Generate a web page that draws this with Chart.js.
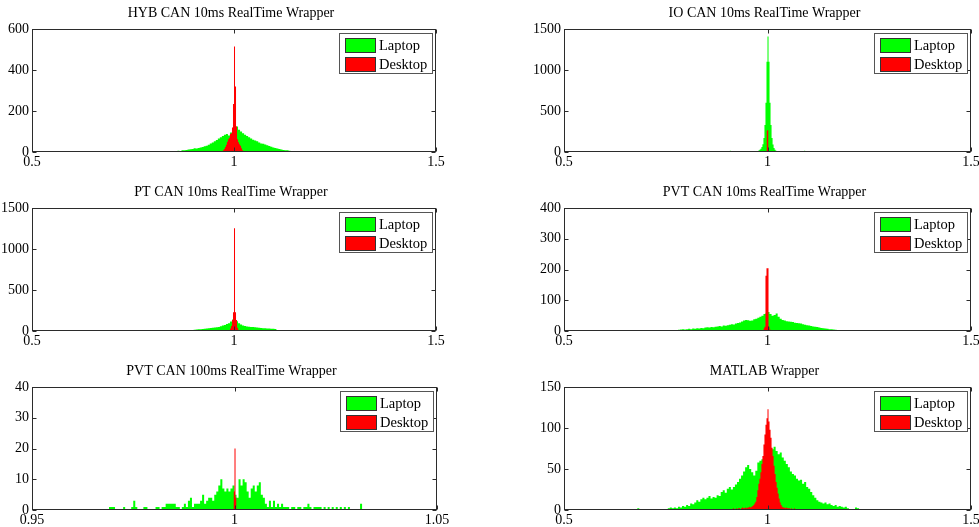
<!DOCTYPE html>
<html>
<head>
<meta charset="utf-8">
<script src="https://cdn.jsdelivr.net/npm/chart.js@4.4.0/dist/chart.umd.min.js"></script>
<style>
  html, body { margin: 0; padding: 0; background: #fff; }
  body { width: 979px; height: 527px; overflow: hidden; position: relative; }
  canvas { position: absolute; }
</style>
</head>
<body>
<script>
// histogram counts: one value per bin, bins begin at *Start and are *Bin wide
const hybLaptopStart = 0.830, hybLaptopBin = 0.005;
const hybLaptop = [2,1,3,4,3,5,6,5,8,9, 10,12,14,15,18,17,20,22,25,28, 31,35,42,46,52,58,66,72,78,84,
  88,80,95,100,118,124,108,100,92,84, 78,72,66,60,56,52,46,42,40,36, 33,29,26,22,19,17,15,12,10,9, 8,6,5,4,3,2,2,1];
const hybDesktopStart = 0.970, hybDesktopBin = 0.0025;
const hybDesktop = [2,8,15,25,35,50,62,70,88,92,120,234,515,320,124,62,48,38,30,18,8,3];

const ioLaptopStart = 0.900, ioLaptopBin = 0.0025;
const ioLaptop = [0,0,0,15, 0,0,0,0,0,0,0,0,0,0,0,0,0,0,0,0,0,0,0,0,0,0,0,0,
  2,5,10,18,28,40,60,95,170,330,600,1100,1410,1100,600,330,170,90,50,28,15,8,4,2,
  0,0,0,0,0,0,0,0,0,0,0,0,0,0,0,0,0,0,0,0,0,0,0,0, 15,0,0,0];
const ioDesktopStart = 0.9975, ioDesktopBin = 0.0025;
const ioDesktop = [260, 268];

const ptLaptopStart = 0.870, ptLaptopBin = 0.005;
const ptLaptop = [3,5,6,8,10,12,15,18,20,22, 25,28,30,33,36,40,42,45,50,58, 66,74,85,95,115,140,170,120,95,80,
  68,60,55,52,50,48,45,42,40,38, 35,33,32,30,28,26,24,3];
const ptDesktopStart = 0.9875, ptDesktopBin = 0.0025;
const ptDesktop = [10,30,60,134,228,1253,228,134,40,15,5];

const pvt10LaptopStart = 0.740, pvt10LaptopBin = 0.005;
const pvt10Laptop = [1,2,1,2,2,3,2,3,4,5, 6,5,6,7,6,8,7,9,8,10, 9,11,12,11,13,12,14,15,16,15,
  18,17,19,20,22,21,24,26,28,31, 34,36,35,33,34,38,40,43,46,50, 55,58,62,55,50,52,57,46,40,36,
  34,32,31,30,29,27,26,25,24,22, 20,19,18,16,15,14,13,11,10,9, 8,7,6,6,5,4,3,3,2,2, 1,1];
const pvt10DesktopStart = 0.990, pvt10DesktopBin = 0.0025;
const pvt10Desktop = [8,14,180,204,204,14,6];

const pvt100LaptopStart = 0.969, pvt100LaptopBin = 0.0005;
const pvt100Laptop = [1,1,1,0,0,0,0,1,0,0, 0,1,3,1,0,0,0,1,1,0, 0,0,0,1,1,0,1,1,2,2,
  2,2,2,1,1,0,1,2,1,3, 4,1,2,2,2,3,5,2,3,4, 4,3,5,6,8,10,7,6,7,6,
  7,8,5,4,10,8,10,9,6,4, 7,8,6,8,9,5,4,2,1,3, 1,3,1,2,1,2,1,1,1,0,
  1,1,0,1,1,0,1,1,2,1, 0,1,1,1,1,0,1,0,1,0, 1,0,1,0,1,0,1,0,1,0, 0,0,0,0,2,0];
const pvt100DesktopStart = 0.99975, pvt100DesktopBin = 0.00025;
const pvt100Desktop = [6, 20, 4];

const matlabLaptopStart = 0.620, matlabLaptopBin = 0.005;
const matlabLaptop = [0,1,1,0,0,0,0,0,0,0, 1,1,2,1,0,1,0,0,0,1, 0,0,1,0,0,1,1,2,3,2,
  3,2,4,3,5,4,6,5,8,7, 9,12,10,13,15,13,15,17,14,16, 15,18,17,22,24,21,26,28,25,28,
  31,34,38,42,47,52,55,50,46,42, 48,58,60,62,64,66,70,72,74,77, 72,68,70,64,60,56,52,47,44,42,
  38,36,37,32,34,28,26,22,18,15, 12,10,9,8,9,7,8,6,5,6, 4,5,4,3,4,2,1,1,0,3,
  2,1,1,0,1,1,0,1,0,0, 0,0,0,0,0,0,0,1,0];
const matlabDesktopStart = 0.900, matlabDesktopBin = 0.0025;
const matlabDesktop = [1,0,1,1,0,1,2,1,1,2, 1,2,2,1,2,3,2,2,3,2, 3,3,4,3,4,5,6,8,10,16,
  24,32,38,46,56,66,80,92,104,112, 123,108,98,88,76,66,54,44,34,27, 20,14,9,6,4,3,3,2,3,2,
  2,2,1,2,1,1,2,1,1,0, 1,1,0,1,1,0,1,0,1,1, 0,1,0,1,0,1,1];

// titles and axis ticks
const titles = ['HYB CAN 10ms RealTime Wrapper', 'IO CAN 10ms RealTime Wrapper',
  'PT CAN 10ms RealTime Wrapper', 'PVT CAN 10ms RealTime Wrapper',
  'PVT CAN 100ms RealTime Wrapper', 'MATLAB Wrapper'];
const xTicksWide = [0.5, 1, 1.5];
const xTicksNarrow = [0.95, 1, 1.05];
const yTicksHyb = [0, 200, 400, 600];
const yTicksIo = [0, 500, 1000, 1500];
const yTicksPt = [0, 500, 1000, 1500];
const yTicksPvt10 = [0, 100, 200, 300, 400];
const yTicksPvt100 = [0, 10, 20, 30, 40];
const yTicksMatlab = [0, 50, 100, 150];
const seriesNames = ['Laptop', 'Desktop'];
const seriesColors = ['#00ff00', '#ff0000'];

// turn bin counts into an outline that the filler can close to y = 0
function histPoints(start, bin, counts) {
  const pts = [{ x: start, y: 0 }];
  counts.forEach((c, i) => {
    pts.push({ x: start + i * bin, y: c });
    pts.push({ x: start + (i + 1) * bin, y: c });
  });
  pts.push({ x: start + counts.length * bin, y: 0 });
  return pts;
}

// plot box in page pixels: left, top, right, bottom
const panels = [
  { box: [32, 29, 436, 152], xt: xTicksWide, yt: yTicksHyb,
    a: [hybLaptopStart, hybLaptopBin, hybLaptop], b: [hybDesktopStart, hybDesktopBin, hybDesktop] },
  { box: [564, 29, 971, 152], xt: xTicksWide, yt: yTicksIo,
    a: [ioLaptopStart, ioLaptopBin, ioLaptop], b: [ioDesktopStart, ioDesktopBin, ioDesktop] },
  { box: [32, 208, 436, 331], xt: xTicksWide, yt: yTicksPt,
    a: [ptLaptopStart, ptLaptopBin, ptLaptop], b: [ptDesktopStart, ptDesktopBin, ptDesktop] },
  { box: [564, 208, 971, 331], xt: xTicksWide, yt: yTicksPvt10,
    a: [pvt10LaptopStart, pvt10LaptopBin, pvt10Laptop], b: [pvt10DesktopStart, pvt10DesktopBin, pvt10Desktop] },
  { box: [32, 387, 437, 510], xt: xTicksNarrow, yt: yTicksPvt100,
    a: [pvt100LaptopStart, pvt100LaptopBin, pvt100Laptop], b: [pvt100DesktopStart, pvt100DesktopBin, pvt100Desktop] },
  { box: [564, 387, 971, 510], xt: xTicksWide, yt: yTicksMatlab,
    a: [matlabLaptopStart, matlabLaptopBin, matlabLaptop], b: [matlabDesktopStart, matlabDesktopBin, matlabDesktop] }
];

const SERIF = '"Liberation Serif", "Times New Roman", serif';

// title over the axes, box with inward tick marks, legend in the corner
const boxAndLegend = {
  id: 'boxAndLegend',
  afterDatasetsDraw(chart, args, opts) {
    const { ctx, chartArea: a, scales: { x, y } } = chart;
    const L = Math.round(a.left) + 0.5, R = Math.round(a.right) - 0.5;
    const T = Math.round(a.top) + 0.5, B = Math.round(a.bottom) - 0.5;
    ctx.save();

    ctx.fillStyle = '#000';
    ctx.font = '14px ' + SERIF;
    ctx.textAlign = 'center';
    ctx.textBaseline = 'middle';
    ctx.fillText(opts.title, (a.left + a.right) / 2 - 3, a.top - 16);

    ctx.strokeStyle = '#2b2b2b';
    ctx.lineWidth = 1;
    ctx.strokeRect(L, T, R - L, B - T);
    ctx.beginPath();
    x.ticks.forEach(t => {
      const px = Math.round(x.getPixelForValue(t.value)) + 0.5;
      ctx.moveTo(px, B); ctx.lineTo(px, B - 4);
      ctx.moveTo(px, T); ctx.lineTo(px, T + 4);
    });
    y.ticks.forEach(t => {
      const py = Math.round(y.getPixelForValue(t.value)) + 0.5;
      ctx.moveTo(L, py); ctx.lineTo(L + 4, py);
      ctx.moveTo(R, py); ctx.lineTo(R - 4, py);
    });
    ctx.stroke();

    const bw = 93, bh = 40;
    const bx = Math.round(a.right) - 4 - bw, by = Math.round(a.top) + 4;
    ctx.fillStyle = '#fff';
    ctx.fillRect(bx, by, bw, bh);
    ctx.strokeStyle = '#555';
    ctx.strokeRect(bx + 0.5, by + 0.5, bw, bh);
    ctx.font = '14.5px ' + SERIF;
    ctx.textAlign = 'left';
    chart.data.datasets.forEach((ds, i) => {
      const sy = by + 5 + i * 19;
      ctx.fillStyle = ds.backgroundColor;
      ctx.fillRect(bx + 6, sy, 30, 14);
      ctx.strokeStyle = '#333';
      ctx.strokeRect(bx + 6.5, sy + 0.5, 30, 14);
      ctx.fillStyle = '#000';
      ctx.fillText(ds.label, bx + 40, sy + 8);
    });
    ctx.restore();
  }
};

panels.forEach((p, k) => {
  const [L, T, R, B] = p.box;
  const canvas = document.createElement('canvas');
  canvas.width = R - L + 60;
  canvas.height = B - T + 29 + 24;
  canvas.style.left = (L - 40) + 'px';
  canvas.style.top = (T - 29) + 'px';
  document.body.appendChild(canvas);

  new Chart(canvas, {
    type: 'line',
    data: {
      datasets: [
        { label: seriesNames[0], data: histPoints(...p.a), backgroundColor: seriesColors[0],
          borderWidth: 0, fill: 'origin', pointRadius: 0, order: 1 },
        { label: seriesNames[1], data: histPoints(...p.b), backgroundColor: seriesColors[1],
          borderWidth: 0, fill: 'origin', pointRadius: 0, order: 0 }
      ]
    },
    options: {
      responsive: false,
      animation: false,
      events: [],
      layout: { padding: { left: 0, right: 20, top: 29, bottom: 0 } },
      scales: {
        x: {
          type: 'linear',
          min: p.xt[0],
          max: p.xt[p.xt.length - 1],
          grid: { display: false, drawTicks: false },
          border: { display: false },
          ticks: { autoSkip: false, maxRotation: 0, padding: 2, color: '#000',
            font: { family: SERIF, size: 14 }, callback: v => String(v) },
          afterBuildTicks: s => { s.ticks = p.xt.map(v => ({ value: v })); },
          afterFit: s => { s.height = 24; }
        },
        y: {
          type: 'linear',
          min: p.yt[0],
          max: p.yt[p.yt.length - 1],
          grid: { display: false, drawTicks: false },
          border: { display: false },
          ticks: { autoSkip: false, padding: 3, color: '#000',
            font: { family: SERIF, size: 14 }, callback: v => String(v) },
          afterBuildTicks: s => { s.ticks = p.yt.map(v => ({ value: v })); },
          afterFit: s => { s.width = 40; }
        }
      },
      plugins: {
        legend: { display: false },
        tooltip: { enabled: false },
        boxAndLegend: { title: titles[k] }
      }
    },
    plugins: [boxAndLegend]
  });
});
</script>
</body>
</html>
